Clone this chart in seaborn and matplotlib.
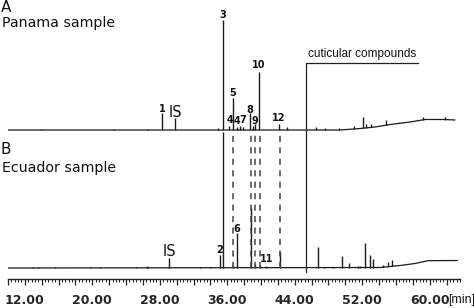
import numpy as np
import pandas as pd
import matplotlib
matplotlib.use("Agg")
import matplotlib.pyplot as plt
from matplotlib.ticker import MultipleLocator, FuncFormatter
import seaborn as sns

# ---------------- data ----------------
# retention time (min) and relative intensity (a.u.)
OFFSET_A = 138  # vertical offset of the Panama trace

# Panama sample (A) baseline
a_base_t = [10.0, 45.34, 49.38, 51.75, 53.53, 55.31, 57.68, 59.46, 61.83, 63.0]
a_base_y = [0.0, 0.0, 0.0, 1.5, 3.0, 5.5, 8.0, 10.5, 10.5, 10.0]
# Panama peaks (time, height above baseline)
a_peak_t = [13.91, 22.57, 26.48, 34.90, 28.26, 29.77, 35.50, 36.21, 36.65,
            37.20, 37.50, 37.87, 38.70, 39.06, 39.29, 39.77, 42.14, 43.09,
            46.53, 47.60, 49.26, 51.04, 52.07, 52.50, 53.00, 54.80, 59.22, 61.83]
a_peak_h = [1.5, 1.0, 1.0, 2.0, 17, 12, 110, 4, 32,
            3, 4, 3, 17, 4, 6, 58, 6, 3,
            3, 2, 2, 3, 11.5, 4, 3, 5, 3, 3]

# Ecuador sample (B) baseline
b_base_t = [10.0, 54.12, 56.49, 58.27, 59.81, 63.3]
b_base_y = [0.0, 0.5, 2.5, 4.5, 7.3, 7.5]
# Ecuador peaks
b_peak_t = [12.96, 13.55, 15.57, 19.72, 20.91, 25.18, 26.48, 26.60, 32.77, 33.95,
            29.09, 35.14, 35.50, 36.65, 37.12, 38.82, 39.29, 39.88, 40.60, 42.26,
            46.77, 47.50, 48.50, 49.61, 50.44, 51.51, 51.80, 52.31, 52.94, 53.29,
            54.50, 55.07, 55.55]
b_peak_h = [1, 1, 1, 1, 1, 1, 1.5, 1, 1, 1,
            10, 13, 136, 3, 35, 60, 4, 3, 2, 16,
            21, 1, 1, 12, 5, 2, 2, 25, 13, 9,
            2, 5, 6]

# peak labels: (text, time, y of label baseline)
a_labels = [("1", 28.26, 156), ("3", 35.50, 250), ("4", 36.30, 145), ("5", 36.69, 172),
            ("4", 37.16, 144), ("7", 37.87, 145), ("8", 38.70, 155), ("9", 39.29, 144),
            ("10", 39.77, 200), ("12", 42.08, 147)]
b_labels = [("2", 35.14, 15), ("6", 37.16, 36), ("11", 40.72, 6)]
is_labels = [(29.90, 151), (29.15, 12)]

# compounds shared by both samples (dashed connectors)
shared_t = [36.65, 38.82, 39.29, 39.83, 42.20]

cuticular_start = 45.34
cuticular_end = 58.63

tick_label_times = [12, 20, 28, 36, 44, 52, 60]

# ---------------- plot ----------------
sns.set_style("white")
plt.rcParams["font.family"] = ["DejaVu Sans"]

fig = plt.figure(figsize=(4.74, 3.08), dpi=100)
ax = fig.add_axes([8 / 474, 29 / 308, 452 / 474, 279 / 308])

trace_col = "#1a1a1a"
dfa = pd.DataFrame({"t": a_base_t, "y": np.array(a_base_y) + OFFSET_A})
dfb = pd.DataFrame({"t": b_base_t, "y": b_base_y})
sns.lineplot(data=dfa, x="t", y="y", ax=ax, color=trace_col, lw=0.9, sort=True)
sns.lineplot(data=dfb, x="t", y="y", ax=ax, color=trace_col, lw=0.9, sort=True)

a_base_at = np.interp(a_peak_t, a_base_t, a_base_y) + OFFSET_A
ax.vlines(a_peak_t, a_base_at, a_base_at + np.array(a_peak_h), color=trace_col, lw=1.0)
b_base_at = np.interp(b_peak_t, b_base_t, b_base_y)
ax.vlines(b_peak_t, b_base_at, b_base_at + np.array(b_peak_h), color=trace_col, lw=1.0)

# dashed connectors
ax.vlines(shared_t, 0, OFFSET_A - 1, color="#444444", lw=1.1, linestyles=(0, (4, 3.5)))

# cuticular compounds bracket
ax.plot([cuticular_start, cuticular_start, cuticular_end], [-4, 205.5, 205.5],
        color="#222222", lw=0.9)
ax.text(cuticular_start + 0.2, 211.5, "cuticular compounds", ha="left", va="baseline",
        fontsize=8.5, family=["Liberation Sans", "DejaVu Sans"], color="#111111")

lab_font = dict(fontsize=7, fontweight="bold", family=["DejaVu Sans"], color="#111111")
for txt, t, y in a_labels + b_labels:
    ax.text(t, y, txt, ha="center", va="baseline", **lab_font)
for t, y in is_labels:
    ax.text(t, y, "IS", ha="center", va="baseline", fontsize=10.5, color="#111111")

ax.set_xlim(10.0, 63.6)
ax.set_ylim(-11, 268)
ax.set_xlabel("")
ax.set_ylabel("")
ax.set_yticks([])
for s in ["top", "left", "right"]:
    ax.spines[s].set_visible(False)
ax.spines["bottom"].set_color("#222222")
ax.spines["bottom"].set_linewidth(1.0)

ax.xaxis.set_major_locator(MultipleLocator(2))
ax.xaxis.set_minor_locator(MultipleLocator(0.4))
ax.xaxis.set_major_formatter(FuncFormatter(
    lambda v, p: f"{v:.2f}" if any(abs(v - L) < 1e-6 for L in tick_label_times) else ""))
ax.tick_params(axis="x", which="major", direction="out", length=4.5, width=0.9,
               color="#222222", pad=6.5, bottom=True)
ax.tick_params(axis="x", which="minor", direction="out", length=2.5, width=0.7,
               color="#222222", bottom=True)
for lab in ax.get_xticklabels():
    lab.set_fontsize(9.0)
    lab.set_fontweight("bold")

fig.text(448 / 474, 1 - 303 / 308, "[min]", ha="left", va="baseline", fontsize=8.8,
         family=["Liberation Sans", "DejaVu Sans"], color="#111111")

# panel titles
def px(x, y):
    return x / 474, 1 - y / 308

fig.text(*px(1, 12), "A", ha="left", va="baseline", fontsize=11, color="#111111")
fig.text(*px(2, 27), "Panama sample", ha="left", va="baseline", fontsize=10.2,
         color="#111111")
fig.text(*px(1, 154), "B", ha="left", va="baseline", fontsize=11, color="#111111")
fig.text(*px(2, 172), "Ecuador sample", ha="left", va="baseline", fontsize=10.2,
         color="#111111")

fig.savefig("out.png", dpi=100)
